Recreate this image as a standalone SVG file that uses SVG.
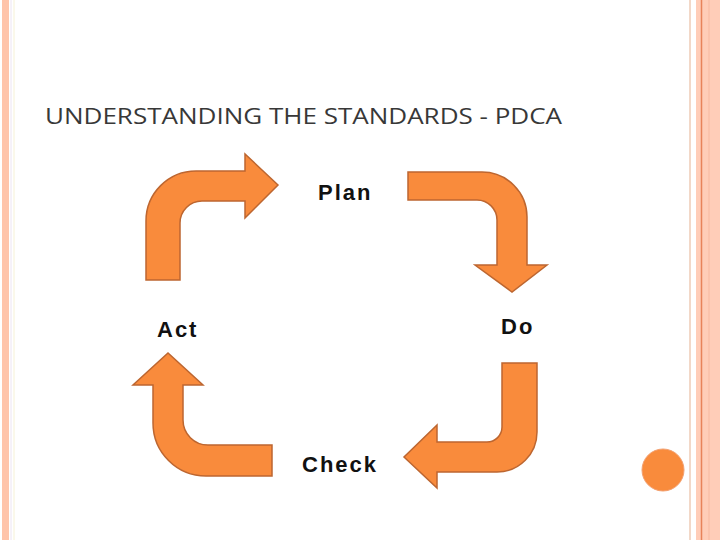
<svg xmlns="http://www.w3.org/2000/svg" width="720" height="540" viewBox="0 0 720 540">
<style>
.arrow{fill:#F98B3C;stroke:#BD6630;stroke-width:1.5;stroke-linejoin:miter}
.lbl{font-family:"Liberation Sans",Arial,sans-serif;font-weight:bold;font-size:22px;letter-spacing:2px;fill:#111}
.title{font-family:"Open Sans","Liberation Sans",sans-serif;font-size:22px;fill:#383838}
</style>
<rect width="720" height="540" fill="#fff"/>
<g id="border">
<rect x="2" y="0" width="7" height="540" fill="#FFC4AA"/>
<line x1="11" y1="0" x2="11" y2="540" stroke="#ECE4F2" stroke-width="1"/>
<line x1="14" y1="0" x2="14" y2="540" stroke="#F6F1D6" stroke-width="1"/>
<line x1="690" y1="0" x2="690" y2="540" stroke="#F2D8C8" stroke-width="2"/>
<rect x="696" y="0" width="24" height="540" fill="#FFCDB8"/>
<line x1="701.5" y1="0" x2="701.5" y2="540" stroke="#E8835A" stroke-width="1.5"/>
<line x1="709" y1="0" x2="709" y2="540" stroke="#FBC3AC" stroke-width="2"/>
</g>
<text class="title" x="45" y="124" textLength="517" lengthAdjust="spacingAndGlyphs">UNDERSTANDING THE STANDARDS - PDCA</text>
<g id="connectors">
<path class="arrow" d="M146,280 L146,221 A50,50 0 0 1 196,171 L245,171 L245,154 L278,185 L245,218 L245,201 L202,201 A22,22 0 0 0 180,223 L180,280 Z"/>
<path class="arrow" d="M408,172 L482,172 A45,45 0 0 1 527,217 L527,265 L547,265 L512,292 L475,265 L497,265 L497,220 A20,20 0 0 0 477,200 L408,200 Z"/>
<path class="arrow" d="M537,363 L537,432 A40,40 0 0 1 497,472 L437,472 L437,488 L404,457 L437,425 L437,442 L487,442 A15,15 0 0 0 502,427 L502,363 Z"/>
<path class="arrow" d="M272,476 L206,476 A53,53 0 0 1 153,423 L153,385 L133,385 L168,353 L203,385 L183,385 L183,420 A25,25 0 0 0 208,445 L272,445 Z"/>
</g>
<g id="plan"><text class="lbl" x="318" y="200">Plan</text></g>
<g id="do"><text class="lbl" x="501" y="334">Do</text></g>
<g id="check"><text class="lbl" x="302" y="472">Check</text></g>
<g id="act"><text class="lbl" x="157" y="337">Act</text></g>
<g id="dot"><circle cx="663" cy="470" r="21" fill="#F98B3C" stroke="#F3A070" stroke-width="1"/></g>
</svg>
